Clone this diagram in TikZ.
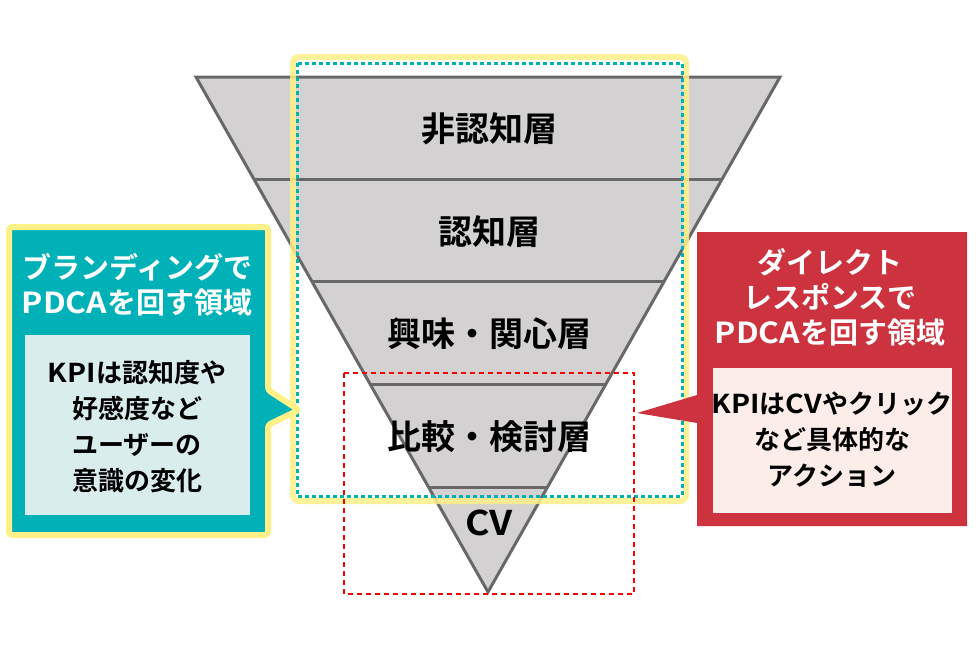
\documentclass[tikz,border=0pt]{standalone}
\usepackage{fontspec}
\setmainfont{Noto Sans CJK JP}[BoldFont={Noto Sans CJK JP Bold}]
\newfontfamily\latfont{Noto Sans CJK JP}[BoldFont={Noto Sans CJK JP Bold}, FakeStretch=1.1]
\newcommand{\lat}[1]{{\latfont\bfseries #1}}
\definecolor{funnelgray}{RGB}{211,209,210}
\definecolor{funnelline}{RGB}{104,104,104}
\definecolor{yel}{RGB}{255,240,135}
\definecolor{tealdash}{RGB}{0,178,178}
\definecolor{tealbox}{RGB}{0,178,184}
\definecolor{tealin}{RGB}{218,237,237}
\definecolor{redbox}{RGB}{204,51,63}
\definecolor{redin}{RGB}{252,237,232}
\definecolor{reddash}{RGB}{250,0,0}
\tikzset{
  bandtxt/.style={font=\bfseries\fontsize{34}{38}\selectfont, text=black, inner sep=0},
  titletxt/.style={font=\bfseries\fontsize{29}{35}\selectfont, text=white, align=center, inner sep=0},
  bodytxt/.style={font=\bfseries\fontsize{26}{36}\selectfont, text=black, align=center, inner sep=0},
}
\begin{document}
\begin{tikzpicture}[x=1pt,y=-1pt]
\useasboundingbox (0,0) rectangle (980,653);
% funnel
\coordinate (tl) at (196,77);
\coordinate (tr) at (780,77);
\coordinate (ap) at (488,592);
\fill[funnelgray] (tl) -- (tr) -- (ap) -- cycle;
\begin{scope}
\clip (tl) -- (tr) -- (ap) -- cycle;
\foreach \yy in {179,281,384,487} {
  \draw[funnelline, line width=3] (150,\yy) -- (830,\yy);
}
\end{scope}
\draw[funnelline, line width=3, line join=miter] (tl) -- (tr) -- (ap) -- cycle;
\node[bandtxt] (b1) at (489,129) {非認知層};
\node[bandtxt] (b2) at (489,232) {認知層};
\node[bandtxt] (b3) at (489,334) {興味・関心層};
\node[bandtxt] (b4) at (489,437) {比較・検討層};
\node[bandtxt] (b5) at (489,523) {\lat{CV}};
% highlight regions
\draw[yel, line width=6, rounded corners=6, opacity=0.85] (293,57) rectangle (686,501);
\draw[tealdash, line width=3, dash pattern=on 4 off 3] (297,63) rectangle (682,496);
\draw[reddash, line width=2.5, dash pattern=on 5 off 4] (344,373) rectangle (634,594);
% left callout
\draw[fill=tealbox, draw=yel, line width=6, line join=round, rounded corners=3]
  (9,227) -- (268,227) -- (268,390) -- (299,410) -- (268,425) -- (268,535) -- (9,535) -- cycle;
\fill[tealin] (25,335) rectangle (250,515);
\node[titletxt] (lt) at (137,285) {ブランディングで\\\lat{PDCA}を回す領域};
\node[bodytxt] (lb) at (137,427) {\lat{KPI}は認知度や\\好感度など\\ユーザーの\\意識の変化};
% right callout
\fill[redbox] (697,232) -- (967,232) -- (967,526) -- (697,526) -- (697,423) -- (637,413) -- (697,395) -- cycle;
\fill[redin] (713,368) rectangle (952,513);
\node[titletxt] (rt) at (830,297) {ダイレクト\\レスポンスで\\\lat{PDCA}を回す領域};
\node[bodytxt] (rb) at (832,440) {\lat{KPI}は\lat{CV}やクリック\\など具体的な\\アクション};
\end{tikzpicture}
\end{document}
